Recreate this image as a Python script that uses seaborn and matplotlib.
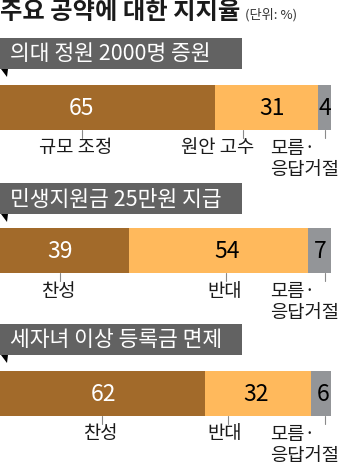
import matplotlib
matplotlib.use("Agg")
import matplotlib.pyplot as plt
import seaborn as sns
import pandas as pd
from matplotlib.patches import Rectangle, Polygon

sns.set_theme(style="white")
plt.rcParams['font.family'] = ['Noto Sans CJK KR', 'DejaVu Sans']

# ---- data ----
title = "주요 공약에 대한 지지율"
unit = "(단위: %)"
questions = ["의대 정원 2000명 증원", "민생지원금 25만원 지급", "세자녀 이상 등록금 면제"]
first_values = [65, 39, 62]
second_values = [31, 54, 32]
third_values = [4, 7, 6]
first_labels = ["규모 조정", "찬성", "찬성"]
second_labels = ["원안 고수", "반대", "반대"]
third_label = "모름·\n응답거절"

C_DARK = "#A26A2A"
C_LIGHT = "#FFB95C"
C_GRAY = "#939598"
C_HEAD = "#626262"

W, H = 340, 467
fig = plt.figure(figsize=(W / 100, H / 100), dpi=100)
fig.patch.set_facecolor("white")

# overlay axes in pixel coordinates
ov = fig.add_axes([0, 0, 1, 1])
ov.set_xlim(0, W)
ov.set_ylim(H, 0)
ov.axis("off")
ov.set_zorder(5)
ov.patch.set_alpha(0)

BAR_W = 331
bar_tops = [85, 228, 371]
bar_h = 45
head_tops = [38, 183, 324]
head_h = 31
head_w = 242

# layout (pixel x) for value labels, ticks, category labels
val_x = [[82, 272, 325], [60, 227, 320], [104, 256, 323]]
tick_x = [[82, 243, 325], [60, 226, 325], [102, 228, 325]]
lab_x = [[76, 218], [58, 225], [100, 225]]

ov.text(0, 12, title, fontsize=17.5, fontweight="black", color="#1a1a1a",
        ha="left", va="center")
ov.text(245, 15, unit, fontsize=9.5, color="#333333", ha="left", va="center")

for i, q in enumerate(questions):
    # header box
    ht = head_tops[i]
    ov.add_patch(Rectangle((0, ht), head_w, head_h, color=C_HEAD, lw=0))
    ov.add_patch(Polygon([(1, ht + head_h), (8, ht + head_h), (7, ht + head_h + 8)],
                         closed=True, color="black", lw=0))
    ov.text(10, ht + head_h / 2 + 1, q, fontsize=15.5, fontweight="medium",
            color="white", ha="left", va="center")

    # stacked bar via seaborn
    bt = bar_tops[i]
    ax = fig.add_axes([0, 1 - (bt + bar_h) / H, BAR_W / W, bar_h / H])
    df = pd.DataFrame({
        "q": [q],
        "total": [first_values[i] + second_values[i] + third_values[i]],
        "two": [first_values[i] + second_values[i]],
        "one": [first_values[i]],
    })
    sns.barplot(data=df, x="total", y="q", orient="h", color=C_GRAY,
                width=1, ax=ax, saturation=1, linewidth=0)
    sns.barplot(data=df, x="two", y="q", orient="h", color=C_LIGHT,
                width=1, ax=ax, saturation=1, linewidth=0)
    sns.barplot(data=df, x="one", y="q", orient="h", color=C_DARK,
                width=1, ax=ax, saturation=1, linewidth=0)
    ax.set_xlim(0, 100)
    ax.set_ylim(0.5, -0.5)
    ax.axis("off")

    # values
    vals = [first_values[i], second_values[i], third_values[i]]
    cols = ["white", "black", "black"]
    for v, x, c in zip(vals, val_x[i], cols):
        ov.text(x, bt + bar_h / 2 + 1, str(v), fontsize=16.5, fontweight="medium",
                color=c, ha="center", va="center")
    # ticks
    for x in tick_x[i]:
        ov.plot([x, x], [bt + bar_h, bt + bar_h + 8], color="#8a8a8a", lw=0.8)
    # labels
    ly = bt + bar_h + 18
    ov.text(lab_x[i][0], ly, first_labels[i], fontsize=13.5, color="#1a1a1a",
            ha="center", va="center")
    ov.text(lab_x[i][1], ly, second_labels[i], fontsize=13.5, color="#1a1a1a",
            ha="center", va="center")
    ov.text(339, ly - 10, third_label, fontsize=13.5, color="#1a1a1a",
            ha="right", va="top", multialignment="left", linespacing=1.0)

fig.savefig("out.png", dpi=100, facecolor="white")
